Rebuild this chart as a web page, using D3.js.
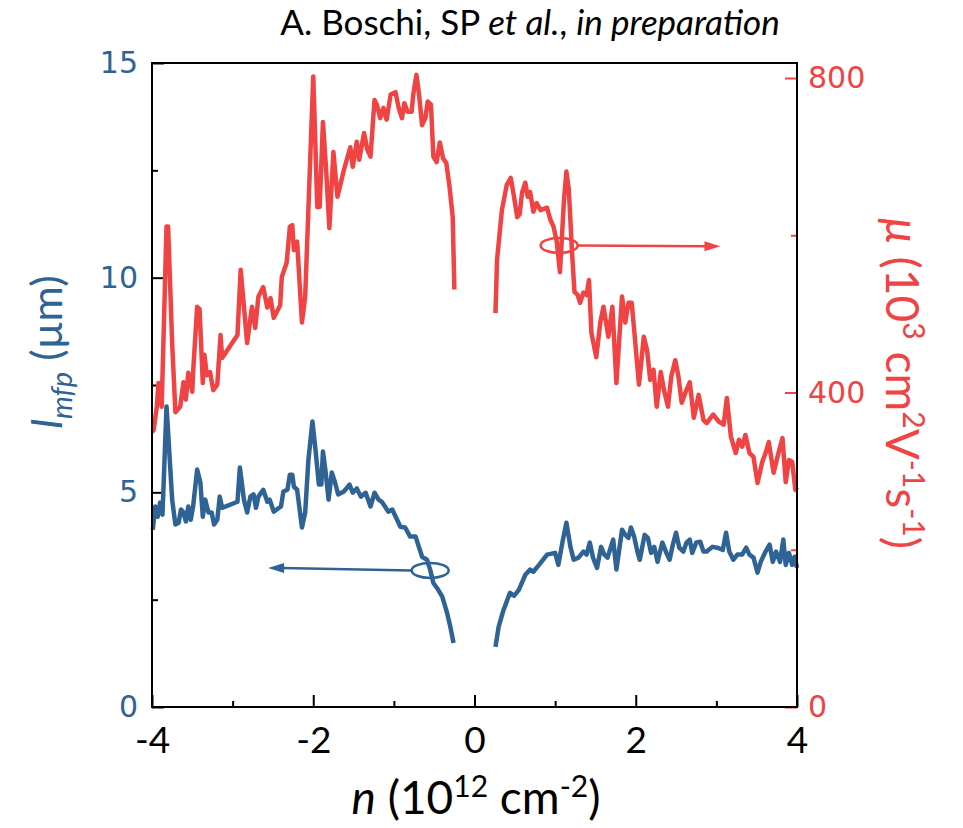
<!DOCTYPE html>
<html>
<head>
<meta charset="utf-8">
<script src="https://cdn.jsdelivr.net/npm/d3@7/dist/d3.min.js"></script>
<style>
  body { margin: 0; background: #fff; }
  text { font-family: "Lato", "Liberation Sans", sans-serif; }
</style>
</head>
<body>
<script>
// mobility, hole side (n < 0), 10^3 cm^2/Vs
var nMuHole = [-4.00, -3.98, -3.94, -3.92, -3.88, -3.82, -3.80, -3.75, -3.71, -3.65, -3.61, -3.58, -3.55, -3.50, -3.49,
    -3.44, -3.41, -3.37, -3.35, -3.32, -3.28, -3.24, -3.19, -3.15, -3.13, -2.94, -2.90, -2.82, -2.76, -2.72, -2.68,
    -2.62, -2.57, -2.53, -2.49, -2.41, -2.39, -2.33, -2.29, -2.26, -2.24, -2.20, -2.14, -2.10, -2.00, -1.98, -1.95,
    -1.92, -1.88, -1.84, -1.80, -1.75, -1.70, -1.62, -1.54, -1.51, -1.46, -1.43, -1.37, -1.33, -1.29, -1.24, -1.21,
    -1.17, -1.13, -1.09, -1.04, -0.98, -0.94, -0.90, -0.87, -0.83, -0.78, -0.76, -0.72, -0.69, -0.65, -0.61, -0.58,
    -0.54, -0.51, -0.47, -0.43, -0.39, -0.35, -0.31, -0.27, -0.25];
var muHole = [350, 352, 382, 412, 382, 611, 611, 463, 375, 382, 413, 391, 425, 401, 426,
    509, 506, 412, 448, 422, 426, 403, 410, 473, 444, 473, 556, 463, 509, 482, 522,
    534, 508, 520, 495, 511, 547, 565, 611, 613, 581, 592, 489, 522, 802, 738, 636,
    636, 744, 683, 609, 706, 649, 683, 712, 687, 719, 696, 730, 709, 700, 772, 766,
    749, 762, 747, 779, 782, 762, 749, 768, 757, 757, 779, 804, 781, 740, 749, 770,
    766, 700, 693, 718, 698, 692, 662, 623, 531];

// mobility, electron side (n > 0)
var nMuElec = [0.26, 0.28, 0.34, 0.40, 0.45, 0.49, 0.53, 0.56, 0.59, 0.63, 0.66, 0.69, 0.73, 0.77, 0.82, 0.90,
    0.94, 0.98, 1.02, 1.06, 1.11, 1.14, 1.17, 1.21, 1.24, 1.28, 1.31, 1.35, 1.39, 1.42, 1.45, 1.51, 1.56, 1.60,
    1.66, 1.71, 1.76, 1.83, 1.87, 1.91, 1.95, 1.98, 2.04, 2.10, 2.14, 2.18, 2.22, 2.26, 2.31, 2.35, 2.40, 2.44,
    2.49, 2.53, 2.57, 2.62, 2.67, 2.72, 2.78, 2.84, 2.88, 2.96, 3.03, 3.09, 3.13, 3.18, 3.24, 3.28, 3.32, 3.36,
    3.41, 3.46, 3.51, 3.57, 3.61, 3.65, 3.71, 3.77, 3.82, 3.86, 3.90, 3.94, 3.98, 4.00];
var muElec = [501, 569, 632, 664, 673, 649, 623, 627, 654, 667, 649, 655, 630, 641, 632, 635,
    620, 611, 592, 553, 645, 681, 658, 578, 528, 524, 514, 527, 524, 543, 476, 445, 489, 509,
    471, 509, 412, 522, 489, 514, 514, 480, 410, 471, 454, 416, 429, 382, 426, 403, 382, 420,
    441, 420, 387, 401, 413, 368, 397, 365, 361, 372, 363, 359, 393, 344, 323, 340, 331, 346,
    323, 318, 285, 312, 323, 337, 298, 323, 342, 286, 314, 312, 276, 280];

// mean free path, hole side, um
var nLHole = [-3.99, -3.96, -3.93, -3.90, -3.87, -3.82, -3.80, -3.75, -3.71, -3.67, -3.64, -3.61, -3.58, -3.55, -3.52,
    -3.49, -3.44, -3.40, -3.37, -3.34, -3.30, -3.26, -3.23, -3.19, -3.16, -3.13, -2.94, -2.91, -2.86, -2.82, -2.78,
    -2.74, -2.71, -2.68, -2.62, -2.57, -2.54, -2.49, -2.40, -2.37, -2.32, -2.29, -2.26, -2.24, -2.20, -2.14, -2.10,
    -2.06, -2.01, -1.97, -1.93, -1.90, -1.88, -1.85, -1.81, -1.77, -1.73, -1.69, -1.62, -1.55, -1.51, -1.46, -1.41,
    -1.35, -1.29, -1.24, -1.19, -1.15, -1.11, -1.07, -1.02, -0.96, -0.92, -0.86, -0.80, -0.73, -0.69, -0.65, -0.59,
    -0.55, -0.51, -0.45, -0.40, -0.34, -0.30, -0.26];
var lHole = [4.13, 4.67, 4.43, 4.76, 4.48, 7.00, 6.39, 4.83, 4.25, 4.29, 4.60, 4.53, 4.32, 4.67, 4.36,
    4.67, 5.53, 5.23, 4.43, 4.83, 4.53, 4.53, 4.25, 4.36, 4.90, 4.64, 4.78, 5.58, 4.83, 4.53, 4.90,
    4.95, 4.64, 4.90, 5.06, 4.78, 4.83, 4.55, 4.67, 5.02, 5.06, 5.41, 5.41, 5.13, 5.06, 4.18, 4.53,
    5.76, 6.65, 5.95, 5.18, 5.18, 5.95, 5.53, 4.83, 5.46, 5.23, 4.95, 5.02, 5.18, 4.99, 5.09, 4.90,
    4.99, 4.67, 4.99, 4.83, 4.78, 4.67, 4.55, 4.60, 4.36, 4.20, 4.18, 3.97, 3.97, 3.73, 3.50, 3.43,
    3.20, 2.89, 2.73, 2.57, 2.19, 1.87, 1.49];

// mean free path, electron side, um
var nLElec = [0.26, 0.30, 0.36, 0.44, 0.49, 0.55, 0.63, 0.69, 0.73, 0.80, 0.90, 1.00, 1.04, 1.09, 1.14, 1.19,
    1.23, 1.29, 1.35, 1.39, 1.43, 1.47, 1.52, 1.57, 1.61, 1.65, 1.72, 1.76, 1.83, 1.87, 1.91, 1.94, 1.98, 2.02,
    2.05, 2.11, 2.15, 2.19, 2.23, 2.27, 2.33, 2.38, 2.42, 2.46, 2.50, 2.54, 2.59, 2.63, 2.67, 2.70, 2.75, 2.80,
    2.84, 2.88, 2.95, 3.01, 3.08, 3.12, 3.16, 3.21, 3.26, 3.32, 3.37, 3.41, 3.46, 3.51, 3.55, 3.61, 3.66, 3.70,
    3.74, 3.79, 3.83, 3.86, 3.90, 3.94, 3.97, 4.00];
var lElec = [1.40, 1.87, 2.26, 2.66, 2.59, 2.73, 3.08, 3.20, 3.15, 3.31, 3.55, 3.59, 3.31, 3.83, 4.29, 3.73,
    3.43, 3.48, 3.62, 3.55, 3.83, 3.48, 3.24, 3.73, 3.55, 3.48, 3.90, 3.20, 4.13, 4.01, 3.94, 4.18, 3.97, 3.62,
    3.43, 4.01, 3.94, 3.59, 3.73, 3.38, 3.83, 3.59, 3.43, 3.78, 4.06, 3.71, 3.62, 3.83, 3.90, 3.59, 3.83, 3.85,
    3.62, 3.62, 3.73, 3.71, 3.66, 4.06, 3.62, 3.43, 3.55, 3.55, 3.71, 3.55, 3.48, 3.13, 3.38, 3.62, 3.78, 3.38,
    3.62, 3.38, 3.90, 3.31, 3.59, 3.31, 3.50, 3.24];

var xTicks = [-4, -2, 0, 2, 4];
var xMinor = [-3, -1, 1, 3];
var lTicks = [0, 5, 10, 15];
var lMinor = [2.5, 7.5, 12.5];
var muTicks = [0, 400, 800];
var muMinor = [200, 600];

var w = 963;
var h = 828;
var blue = "#2f6396";
var red = "#f04343";
var x0 = 152, x1 = 797, y0 = 707, y1 = 63;

var xScale = d3.scaleLinear().domain([-4, 4]).range([x0, x1]);
var lScale = d3.scaleLinear().domain([0, 15]).range([y0, y1]);
var muScale = d3.scaleLinear().domain([0, 800]).range([y0, 78]);

var svg = d3.select("body")
    .append("svg")
    .attr("width", w)
    .attr("height", h);

// axes: ticks point inward
function styleAxis(g, color, size) {
    g.select(".domain").remove();
    g.selectAll("line").attr("stroke", color).attr("stroke-width", 2);
    g.selectAll("text")
        .attr("fill", color)
        .style("font-size", size + "px");
}

svg.append("g")
    .attr("transform", "translate(0," + y0 + ")")
    .call(d3.axisBottom(xScale).tickValues(xMinor).tickSize(-6).tickFormat(""))
    .call(styleAxis, "#000", 0);
svg.append("g")
    .attr("transform", "translate(0," + y0 + ")")
    .call(d3.axisBottom(xScale).tickValues(xTicks).tickSize(-12).tickPadding(20)
        .tickFormat(function(d) { return String(d); }))
    .call(styleAxis, "#000", 37)
    .selectAll("text").style("font-family", "Lato");

svg.append("g")
    .attr("transform", "translate(" + x0 + ",0)")
    .call(d3.axisLeft(lScale).tickValues(lMinor).tickSize(-6).tickFormat(""))
    .call(styleAxis, "#000", 0);
svg.append("g")
    .attr("transform", "translate(" + x0 + ",0)")
    .call(d3.axisLeft(lScale).tickValues(lTicks).tickSize(-12).tickPadding(14))
    .call(styleAxis, "#000", 30)
    .selectAll("text").attr("fill", blue).style("font-family", "DejaVu Sans");

svg.append("g")
    .attr("transform", "translate(" + x1 + ",0)")
    .call(d3.axisRight(muScale).tickValues(muMinor).tickSize(-6).tickFormat(""))
    .call(styleAxis, red, 0);
svg.append("g")
    .attr("transform", "translate(" + x1 + ",0)")
    .call(d3.axisRight(muScale).tickValues(muTicks).tickSize(-12).tickPadding(11))
    .call(styleAxis, red, 30)
    .selectAll("text").style("font-family", "DejaVu Sans");

// curves
var muLine = d3.line()
    .x(function(d) { return xScale(d[0]); })
    .y(function(d) { return muScale(d[1]); });
var lLine = d3.line()
    .x(function(d) { return xScale(d[0]); })
    .y(function(d) { return lScale(d[1]); });

var curves = [
    { pts: d3.zip(nMuHole, muHole), line: muLine, color: red },
    { pts: d3.zip(nMuElec, muElec), line: muLine, color: red },
    { pts: d3.zip(nLHole, lHole), line: lLine, color: blue },
    { pts: d3.zip(nLElec, lElec), line: lLine, color: blue }
];

svg.selectAll("path.curve")
    .data(curves)
    .enter()
    .append("path")
    .attr("class", "curve")
    .attr("d", function(d) { return d.line(d.pts); })
    .attr("fill", "none")
    .attr("stroke", function(d) { return d.color; })
    .attr("stroke-width", 4.5)
    .attr("stroke-linejoin", "round");

// frame
svg.append("rect")
    .attr("x", x0)
    .attr("y", y1)
    .attr("width", x1 - x0)
    .attr("height", y0 - y1)
    .attr("fill", "none")
    .attr("stroke", "#000")
    .attr("stroke-width", 2);

// ellipse + arrow markers showing which axis belongs to which curve
function pointer(cx, cy, tipX, tipY, color) {
    var dir = tipX > cx ? 1 : -1;
    svg.append("ellipse")
        .attr("cx", cx).attr("cy", cy)
        .attr("rx", 18.5).attr("ry", 7.5)
        .attr("fill", "none")
        .attr("stroke", color)
        .attr("stroke-width", 2.5);
    svg.append("line")
        .attr("x1", cx + dir * 18.5).attr("y1", cy)
        .attr("x2", tipX - dir * 14).attr("y2", tipY)
        .attr("stroke", color)
        .attr("stroke-width", 2.5);
    svg.append("path")
        .attr("d", "M" + tipX + "," + tipY +
            "L" + (tipX - dir * 16) + "," + (tipY - 5) +
            "L" + (tipX - dir * 16) + "," + (tipY + 5) + "Z")
        .attr("fill", color);
}
pointer(xScale(1.05), muScale(587), xScale(3.05), muScale(586), red);
pointer(xScale(-0.55), lScale(3.18), xScale(-2.56), lScale(3.24), blue);

// titles
var title = svg.append("text")
    .attr("x", 530)
    .attr("y", 35)
    .attr("text-anchor", "middle")
    .style("font-size", "35px")
    .attr("fill", "#000");
title.append("tspan").text("A. Boschi, SP ");
title.append("tspan").attr("font-style", "italic").text("et al.");
title.append("tspan").text(", ");
title.append("tspan").attr("font-style", "italic").text("in preparation");

var xTitle = svg.append("text")
    .attr("x", 476)
    .attr("y", 814)
    .attr("text-anchor", "middle")
    .style("font-size", "46px")
    .attr("fill", "#000");
xTitle.append("tspan").attr("font-style", "italic").text("n");
xTitle.append("tspan").text(" (10");
xTitle.append("tspan").attr("dy", -17).style("font-size", "30px").text("12");
xTitle.append("tspan").attr("dy", 17).text(" cm");
xTitle.append("tspan").attr("dy", -17).style("font-size", "30px").text("-2");
xTitle.append("tspan").attr("dy", 17).text(")");

var lTitle = svg.append("text")
    .attr("transform", "translate(62,352) rotate(-90)")
    .attr("text-anchor", "middle")
    .style("font-size", "43px")
    .attr("fill", blue);
lTitle.append("tspan").attr("font-style", "italic").text("l");
lTitle.append("tspan").attr("font-style", "italic").attr("dy", 10).style("font-size", "29px").text("mfp");
lTitle.append("tspan").attr("dy", -10).text(" (\u00b5m)");

var muTitle = svg.append("text")
    .attr("transform", "translate(886,383) rotate(90)")
    .attr("text-anchor", "middle")
    .style("font-size", "46px")
    .attr("fill", red);
muTitle.append("tspan").attr("font-style", "italic").text("\u00b5");
muTitle.append("tspan").text(" (10");
muTitle.append("tspan").attr("dy", -17).style("font-size", "30px").text("3");
muTitle.append("tspan").attr("dy", 17).text(" cm");
muTitle.append("tspan").attr("dy", -17).style("font-size", "30px").text("2");
muTitle.append("tspan").attr("dy", 17).text("V");
muTitle.append("tspan").attr("dy", -17).style("font-size", "30px").text("-1");
muTitle.append("tspan").attr("dy", 17).text("s");
muTitle.append("tspan").attr("dy", -17).style("font-size", "30px").text("-1");
muTitle.append("tspan").attr("dy", 17).text(")");
</script>
</body>
</html>
